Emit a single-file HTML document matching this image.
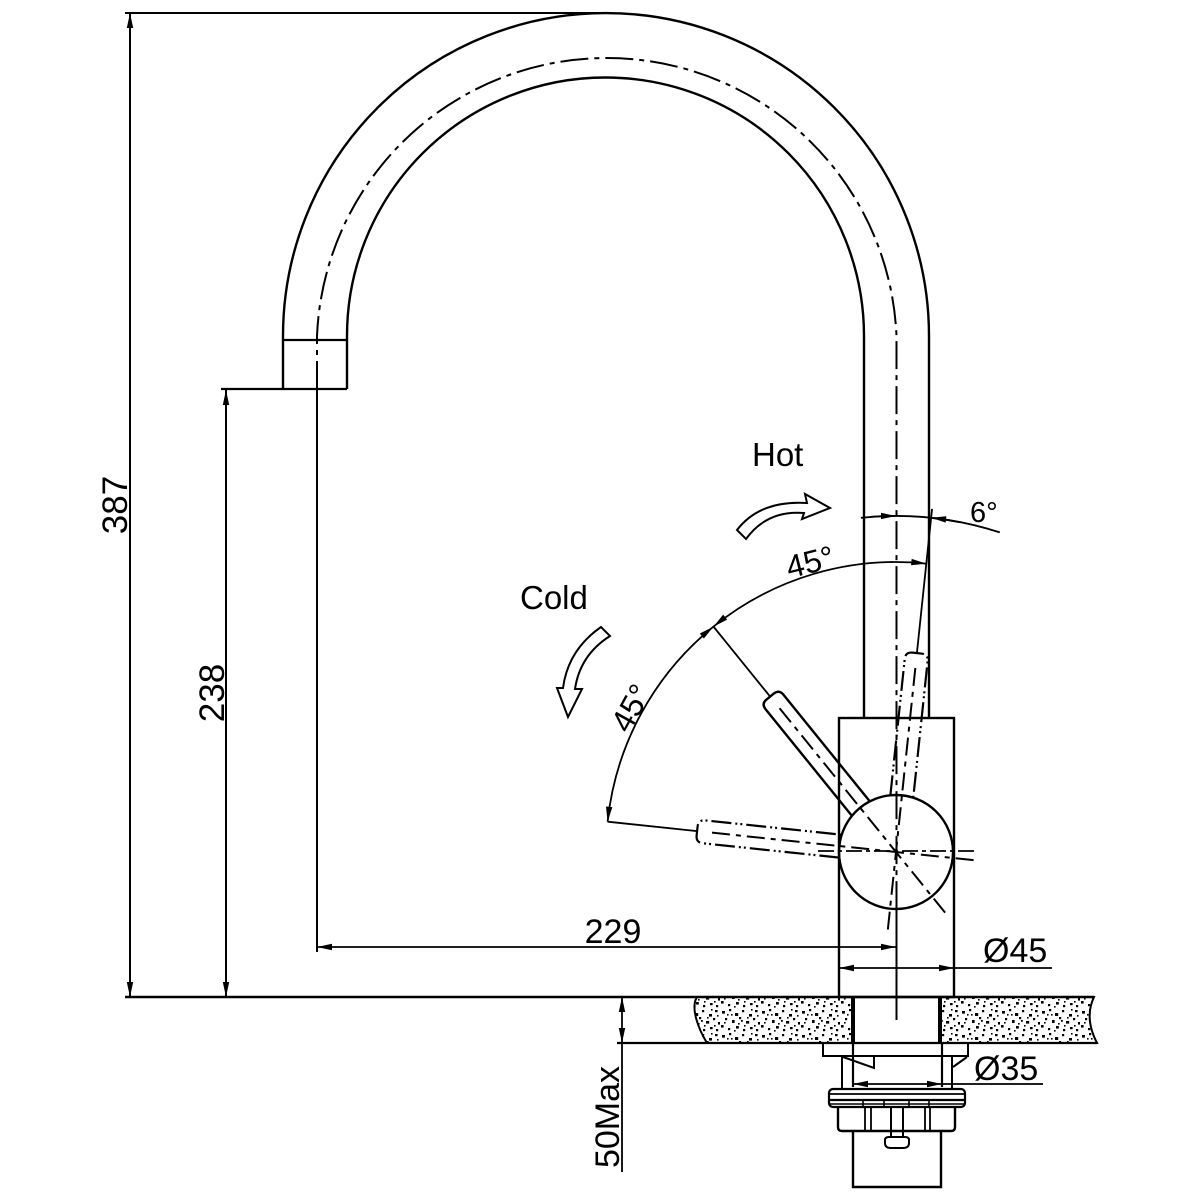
<!DOCTYPE html>
<html>
<head>
<meta charset="utf-8">
<style>
  html,body{margin:0;padding:0;background:#fff;}
  svg{display:block;}
  text{font-family:"Liberation Sans", Arial, sans-serif; fill:#000;}
</style>
</head>
<body>
<svg width="1200" height="1200" viewBox="0 0 1200 1200" xmlns="http://www.w3.org/2000/svg">
  <defs>
    <marker id="ar" viewBox="-16 -5 17 10" refX="0" refY="0" markerWidth="17" markerHeight="10" markerUnits="userSpaceOnUse" orient="auto-start-reverse">
      <path d="M0 0 L-15 -3.2 L-15 3.2 Z" fill="#000"/>
    </marker>
    <pattern id="gr" width="40" height="24" patternUnits="userSpaceOnUse">
      <g fill="#000">
        <rect x="2" y="3" width="3" height="2.6"/>
        <rect x="9" y="1" width="2.2" height="2.2"/>
        <rect x="15" y="5" width="3.2" height="3"/>
        <rect x="22" y="2" width="2.2" height="2.2"/>
        <rect x="29" y="6" width="3" height="2.6"/>
        <rect x="35" y="2" width="2.6" height="2.2"/>
        <rect x="5" y="10" width="2.2" height="2.2"/>
        <rect x="12" y="12" width="2.6" height="3"/>
        <rect x="19" y="9" width="2.2" height="2.2"/>
        <rect x="26" y="13" width="3.2" height="2.6"/>
        <rect x="33" y="10" width="2.2" height="2.2"/>
        <rect x="38" y="14" width="2" height="2.6"/>
        <rect x="1" y="17" width="2.6" height="2.6"/>
        <rect x="8" y="20" width="2.2" height="2.2"/>
        <rect x="16" y="18" width="2.8" height="2.6"/>
        <rect x="23" y="21" width="2.2" height="2.2"/>
        <rect x="30" y="19" width="2.6" height="2.2"/>
        <rect x="36" y="21" width="2.2" height="2.2"/>
        <rect x="11" y="6" width="1.6" height="1.6"/>
        <rect x="31" y="1" width="1.6" height="1.6"/>
        <rect x="18" y="15" width="1.6" height="1.6"/>
        <rect x="4" y="14" width="1.6" height="1.6"/>
        <rect x="27" y="9" width="1.6" height="1.6"/>
        <rect x="34" y="17" width="1.6" height="1.6"/>
        <rect x="14" y="22" width="1.6" height="1.6"/>
        <rect x="21" y="12" width="1.8" height="1.8"/>
        <rect x="7" y="6" width="1.6" height="1.6"/>
        <rect x="24" y="17" width="1.6" height="1.6"/>
        <rect x="37" y="7" width="1.6" height="1.6"/>
      </g>
    </pattern>
  </defs>

  <g fill="none" stroke="#000" stroke-linecap="butt" stroke-linejoin="miter">
    <!-- ===== Spout ===== -->
    <path d="M283 389 L283 336 A323 323 0 0 1 929 336 L929 718" stroke-width="2.4"/>
    <path d="M347 389 L347 336 A258.5 258.5 0 0 1 864 336 L864 718" stroke-width="2.4"/>
    <!-- spout centerline -->
    <path d="M317 389 L317 336 A290 290 0 0 1 896.5 336 L896.5 905" stroke-width="2" stroke-dasharray="28 6 5 6"/>
    <line x1="896.5" y1="905" x2="896.5" y2="1020" stroke-width="2"/>
    <!-- end cap -->
    <line x1="283" y1="340" x2="347" y2="340" stroke-width="2.2"/>
    <line x1="221" y1="389" x2="347" y2="389" stroke-width="2.2"/>

    <!-- ===== Body ===== -->
    <rect x="839" y="718" width="115" height="279" stroke-width="2.4"/>
    <circle cx="896" cy="852" r="57" stroke-width="2.4"/>
    <line x1="818" y1="851" x2="975" y2="851" stroke-width="1.8" stroke-dasharray="16 4 4 4"/>

    <!-- ===== Handles ===== -->
    <g transform="translate(896 852) rotate(-39)">
      <path d="M-11.5 -55.8 L-11.5 -193 Q-11.5 -200 -4.5 -200 L4.5 -200 Q11.5 -200 11.5 -193 L11.5 -55.8" stroke-width="2.4"/>
      <line x1="0" y1="-185" x2="0" y2="78" stroke-width="2" stroke-dasharray="18 6 5 6"/>
      <line x1="0" y1="-200" x2="0" y2="-290" stroke-width="1.8"/>
    </g>
    <g transform="translate(896 852) rotate(6)">
      <path d="M-11.5 -55.8 L-11.5 -193 Q-11.5 -200 -4.5 -200 L4.5 -200 Q11.5 -200 11.5 -193 L11.5 -55.8" stroke-width="2.2" stroke-dasharray="20 4 2 3 2 4"/>
      <line x1="0" y1="-185" x2="0" y2="78" stroke-width="2" stroke-dasharray="18 6 5 6"/>
      <line x1="0" y1="-200" x2="0" y2="-345" stroke-width="1.8"/>
    </g>
    <g transform="translate(896 852) rotate(-84)">
      <path d="M-11.5 -55.8 L-11.5 -193 Q-11.5 -200 -4.5 -200 L4.5 -200 Q11.5 -200 11.5 -193 L11.5 -55.8" stroke-width="2.2" stroke-dasharray="20 4 2 3 2 4"/>
      <line x1="0" y1="-185" x2="0" y2="80" stroke-width="2" stroke-dasharray="18 6 5 6"/>
      <line x1="0" y1="-200" x2="0" y2="-290" stroke-width="1.8"/>
    </g>

    <!-- ===== Angle dims ===== -->
    <path d="M607.6 821.7 A290 290 0 0 1 713.5 626.6" stroke-width="1.8" marker-start="url(#ar)" marker-end="url(#ar)"/>
    <path d="M713.5 626.6 A290 290 0 0 1 926.3 563.6" stroke-width="1.8" marker-start="url(#ar)" marker-end="url(#ar)"/>
    <path d="M860.9 517.8 A336 336 0 0 1 999.8 532.4" stroke-width="1.8"/>
    <path d="M870 516.9 A336 336 0 0 1 896 516" stroke-width="1.8" marker-end="url(#ar)"/>
    <path d="M960.1 522.2 A336 336 0 0 0 931.1 517.8" stroke-width="1.8" marker-end="url(#ar)"/>

    <!-- ===== Linear dims ===== -->
    <line x1="125" y1="13" x2="606" y2="13" stroke-width="2"/>
    <line x1="130" y1="13" x2="130" y2="997" stroke-width="2" marker-start="url(#ar)" marker-end="url(#ar)"/>
    <line x1="226" y1="390" x2="226" y2="997" stroke-width="2" marker-start="url(#ar)" marker-end="url(#ar)"/>
    <line x1="317" y1="389" x2="317" y2="952" stroke-width="2"/>
    <line x1="317" y1="947" x2="896" y2="947" stroke-width="1.8" marker-start="url(#ar)" marker-end="url(#ar)"/>
    <line x1="839" y1="968" x2="954" y2="968" stroke-width="1.8" marker-start="url(#ar)" marker-end="url(#ar)"/>
    <line x1="954" y1="968" x2="1052" y2="968" stroke-width="1.8"/>
    <line x1="853" y1="1084" x2="942" y2="1084" stroke-width="1.8" marker-start="url(#ar)" marker-end="url(#ar)"/>
    <line x1="942" y1="1084" x2="1043" y2="1084" stroke-width="1.8"/>
    <line x1="622" y1="997" x2="622" y2="1043" stroke-width="1.8" marker-start="url(#ar)" marker-end="url(#ar)"/>
    <line x1="622" y1="1043" x2="622" y2="1172" stroke-width="1.8"/>

    <!-- ===== Countertop ===== -->
    <path d="M697 997 C690 1008 699 1030 707 1043 L853 1043 L853 997 Z" fill="url(#gr)" stroke-width="2"/>
    <path d="M940 997 L1094 997 Q1084 1018 1097 1043 L940 1043 Z" fill="url(#gr)" stroke-width="2"/>
    <line x1="125" y1="997" x2="1094" y2="997" stroke-width="2.4"/>
    <line x1="617" y1="1043" x2="1097" y2="1043" stroke-width="2.2"/>
    <line x1="853" y1="997" x2="853" y2="1043" stroke-width="4"/>
    <line x1="940" y1="997" x2="940" y2="1043" stroke-width="4"/>

    <!-- ===== Under-counter fitting ===== -->
    <rect x="823" y="1043" width="145" height="13" stroke-width="2"/>
    <line x1="853" y1="1043" x2="853" y2="1087" stroke-width="2.2"/>
    <line x1="942" y1="1043" x2="942" y2="1087" stroke-width="2.2"/>
    <line x1="842" y1="1056" x2="842" y2="1088" stroke-width="2"/>
    <path d="M843 1057 L874 1068 L874 1056" stroke-width="2"/>
    <line x1="952" y1="1056" x2="952" y2="1088" stroke-width="2"/>
    <line x1="953" y1="1067" x2="967" y2="1057" stroke-width="2"/>
    <rect x="829" y="1089" width="136" height="18" rx="4" stroke-width="2.2"/>
    <line x1="830" y1="1094" x2="964" y2="1094" stroke-width="1.8"/>
    <line x1="830" y1="1100" x2="964" y2="1100" stroke-width="2.2"/>
    <line x1="830" y1="1104" x2="964" y2="1104" stroke-width="1.6"/>
    <line x1="863" y1="1100" x2="863" y2="1107" stroke-width="1.6"/>
    <line x1="884" y1="1100" x2="884" y2="1107" stroke-width="1.6"/>
    <line x1="909" y1="1100" x2="909" y2="1107" stroke-width="1.6"/>
    <line x1="929" y1="1100" x2="929" y2="1107" stroke-width="1.6"/>
    <path d="M838 1107 L838 1127 Q838 1131 842 1131 L951 1131 Q955 1131 955 1127 L955 1107" stroke-width="2.4"/>
    <line x1="865" y1="1107" x2="865" y2="1131" stroke-width="1.8"/>
    <line x1="871" y1="1107" x2="871" y2="1131" stroke-width="1.8"/>
    <line x1="925" y1="1107" x2="925" y2="1131" stroke-width="1.8"/>
    <line x1="930" y1="1107" x2="930" y2="1131" stroke-width="1.8"/>
    <path d="M891 1107 L891 1137 M903 1107 L903 1137" stroke-width="2"/>
    <path d="M885 1140 Q885 1137 889 1137 L905 1137 Q909 1137 909 1140 L909 1143 Q909 1148 903 1148 L891 1148 Q885 1148 885 1143 Z" stroke-width="2"/>
    <path d="M853 1131 L853 1187 L941 1187 L941 1131" stroke-width="2.4"/>

    <!-- ===== Direction arrows ===== -->
    <path d="M737 530 Q760 500 807 503 L805 494 L830 508 L802 519 L804 513 Q767 510 746 539 Z" stroke-width="2"/>
    <path d="M601 627 Q568 650 563 688 L557 688 L568 717 L582 689 L575 689 Q580 655 610 636 Z" stroke-width="2"/>
  </g>

  <!-- ===== Text ===== -->
  <text x="752" y="466" font-size="33">Hot</text>
  <text x="520" y="609" font-size="33">Cold</text>
  <text x="613" y="943" font-size="34" text-anchor="middle">229</text>
  <text x="983" y="962" font-size="34">Ø45</text>
  <text x="974" y="1080" font-size="34">Ø35</text>
  <text x="970" y="522" font-size="29">6°</text>
  <text transform="translate(810 562) rotate(-14)" x="0" y="11" font-size="32" text-anchor="middle">45°</text>
  <text transform="translate(631 708) rotate(-61)" x="0" y="11" font-size="32" text-anchor="middle">45°</text>
  <text transform="translate(115 505) rotate(-90)" x="0" y="12" font-size="35" text-anchor="middle">387</text>
  <text transform="translate(212 693) rotate(-90)" x="0" y="12" font-size="35" text-anchor="middle">238</text>
  <text transform="translate(607 1117) rotate(-90)" x="0" y="12" font-size="34" text-anchor="middle">50Max</text>
</svg>
</body>
</html>
